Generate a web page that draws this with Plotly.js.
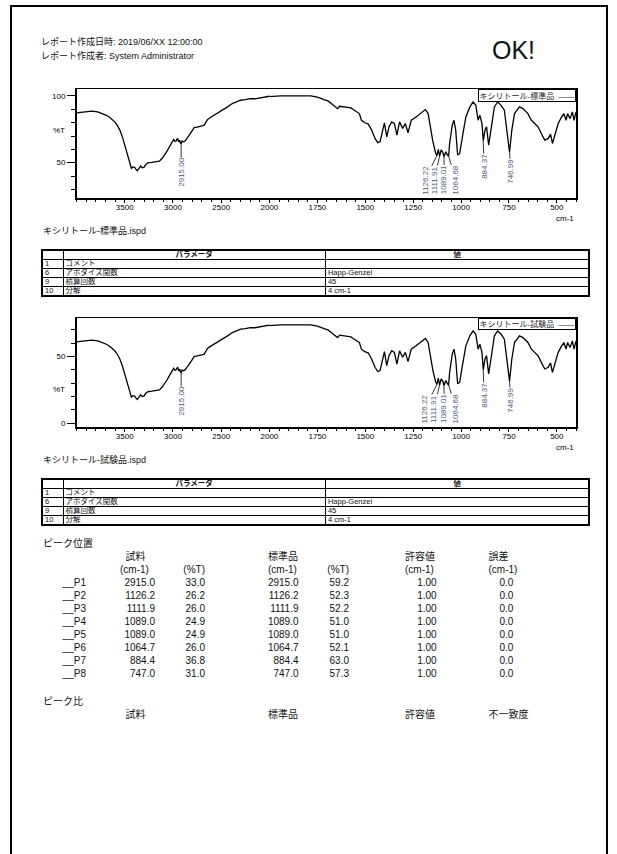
<!DOCTYPE html>
<html><head><meta charset="utf-8">
<script src="https://cdn.plot.ly/plotly-3.0.1.min.js"></script>
<style>
html,body{margin:0;padding:0;background:#fff;}
body{width:617px;height:854px;position:relative;overflow:hidden;font-family:"Liberation Sans","Noto Sans CJK JP",sans-serif;color:#111;}
#frame{position:absolute;left:10px;top:5px;width:598px;height:900px;border:2px solid #000;box-sizing:border-box;}
#plot{position:absolute;left:0;top:0;width:617px;height:854px;}
.t{position:absolute;white-space:nowrap;line-height:1;}
table.p{position:absolute;border-collapse:collapse;table-layout:fixed;border:2px solid #000;font-family:"Liberation Sans","Noto Sans CJK JP",sans-serif;}
table.p td{border:1.5px solid #000;height:8px;padding:0 0 0 2px;font-size:7.5px;line-height:8px;overflow:hidden;white-space:nowrap;color:#111;}
table.p td.h{text-align:center;font-weight:bold;padding:0;}
</style></head>
<body>
<div id="frame"></div>
<div id="plot"></div>
<script>
// ---------------- data ----------------
const wavenumber = [4000,3900,3843,3780,3740,3690,3654,3620,3603,3575,3551,3525,3500,3480,3466,3445,3431,3415,3397,3385,3370,3350,3335,3318,3301,3280,3253,3220,3191,3160,3140,3110,3088,3060,3037,3015,2992,2980,2968,2958,2951,2940,2930,2923,2915,2905,2890,2875,2855,2831,2800,2779,2760,2740,2728,2700,2676,2660,2642,2620,2590,2565,2539,2505,2470,2430,2385,2340,2299,2250,2196,2150,2093,2050,2000,1970,1942,1900,1872,1830,1785,1750,1715,1695,1671,1651,1645,1634,1615,1598,1575,1563,1545,1531,1520,1510,1502,1484,1467,1449,1435,1423,1411,1400,1388,1376,1362,1348,1335,1321,1305,1291,1277,1260,1235,1204,1186,1172,1160,1147,1133,1126,1119,1112,1104,1096,1089,1080,1070,1065,1060,1046,1037,1028,1018,1007,993,975,954,937,923,911,902,891,884,875,867,856,844,826,809,791,774,760,747,735,721,695,677,651,633,616,598,581,563,545,533,523,510,493,475,463,452,444,431,419,410,400];
const standardT = [87.3,88.0,88.6,88.0,86.8,85.5,83.8,82.0,80.6,77.8,74.4,69.5,63.2,57.5,53.2,48.5,45.8,46.8,46.5,45.2,44.0,46.0,47.5,46.2,46.5,48.8,50.0,50.2,50.7,51.0,51.2,53.5,55.7,58.8,61.9,64.5,67.4,66.0,66.2,67.6,68.2,65.5,66.8,64.9,64.3,66.2,65.6,66.2,68.0,70.6,74.0,76.4,76.5,76.7,76.9,77.5,78.1,80.5,82.3,83.5,84.8,85.7,86.8,88.2,89.8,92.0,94.3,95.6,96.8,97.2,98.0,97.9,98.8,99.2,99.8,99.6,100.0,100.0,100.2,100.1,100.0,99.2,97.3,96.3,93.6,91.5,90.5,92.3,92.0,91.3,91.0,89.8,88.3,86.8,81.8,80.5,79.9,78.9,74.4,68.2,65.0,65.7,74.4,79.9,69.4,76.9,80.6,79.4,70.6,80.6,75.7,79.4,72.4,81.8,84.3,88.0,89.8,86.8,76.9,65.7,57.5,55.3,60.0,55.0,59.5,58.0,54.5,58.2,55.5,54.8,64.0,78.1,81.8,74.4,55.8,57.0,69.4,84.3,91.8,95.5,93.0,81.8,85.6,79.4,66.5,74.4,76.9,63.2,74.4,91.8,95.5,93.0,89.3,74.4,57.8,74.4,86.8,91.8,90.5,86.8,81.8,79.4,76.9,71.9,66.9,68.2,71.4,64.4,70.6,79.4,84.3,86.8,81.8,86.8,83.0,88.0,81.8,88.0];
const sampleT = [61.0,61.7,62.3,61.7,60.5,59.2,57.5,55.7,54.3,51.5,48.1,43.2,36.9,31.2,26.9,22.2,19.5,20.5,20.2,18.9,17.7,19.7,21.2,19.9,20.2,22.5,23.7,23.9,24.4,24.7,24.9,27.2,29.4,32.5,35.6,38.2,41.1,39.7,39.9,41.3,41.9,39.2,40.5,38.6,38.0,39.9,39.3,39.9,41.7,44.3,47.7,50.1,50.2,50.4,50.6,51.2,51.8,54.2,56.0,57.2,58.5,59.4,60.5,61.9,63.5,65.7,68.0,69.3,70.5,70.9,71.7,71.6,72.5,72.9,73.5,73.3,73.7,73.7,73.9,73.8,73.7,72.9,71.0,70.0,67.3,65.2,64.2,66.0,65.7,65.0,64.7,63.5,62.0,60.5,55.5,54.2,53.6,52.6,48.1,41.9,38.7,39.4,48.1,53.6,43.1,50.6,54.3,53.1,44.3,54.3,49.4,53.1,46.1,55.5,58.0,61.7,63.5,60.5,50.6,39.4,31.2,29.0,33.7,28.7,33.2,31.7,28.2,31.9,29.2,28.5,37.7,51.8,55.5,48.1,29.5,30.7,43.1,58.0,65.5,69.2,66.7,55.5,59.3,53.1,40.2,48.1,50.6,36.9,48.1,65.5,69.2,66.7,63.0,48.1,31.5,48.1,60.5,65.5,64.2,60.5,55.5,53.1,50.6,45.6,40.6,41.9,45.1,38.1,44.3,53.1,58.0,60.5,55.5,60.5,56.7,61.7,55.5,61.7];

const peakWn = [2915.00, 1126.22, 1111.91, 1089.01, 1064.68, 884.37, 746.99];
const peakStdTip = [64.3, 55.3, 55.0, 54.5, 54.8, 66.5, 57.8];
const peakSmpTip = [38.0, 29.0, 28.7, 28.2, 28.5, 40.2, 31.5];

const xTickLeft = [3500, 3000, 2500, 2000];
const xTickRight = [1750, 1500, 1250, 1000, 750, 500];
const yTickStd = [50, 100];
const yTickSmp = [0, 50];

const paramNo = ['1', '6', '9', '10'];
const paramName = ['コメント', 'アポダイズ関数', '積算回数', '分解'];
const paramVal = ['', 'Happ-Genzel', '45', '4 cm-1'];

const peakNames = ['__P1','__P2','__P3','__P4','__P5','__P6','__P7','__P8'];
const tblSampleWn = [2915.0, 1126.2, 1111.9, 1089.0, 1089.0, 1064.7, 884.4, 747.0];
const tblSampleT = [33.0, 26.2, 26.0, 24.9, 24.9, 26.0, 36.8, 31.0];
const tblStdWn = [2915.0, 1126.2, 1111.9, 1089.0, 1089.0, 1064.7, 884.4, 747.0];
const tblStdT = [59.2, 52.3, 52.2, 51.0, 51.0, 52.1, 63.0, 57.3];
const tblTol = [1.00, 1.00, 1.00, 1.00, 1.00, 1.00, 1.00, 1.00];
const tblErr = [0.0, 0.0, 0.0, 0.0, 0.0, 0.0, 0.0, 0.0];

// ---------------- chart ----------------
const W = 617, H = 854;
const xL = 76.5 / W, xS = 269.5 / W, xR = 576 / W;
const pf = px => 1 - px / H;
const labelOffsets = [[0, 29], [-12.2, 24.4], [-5.4, 24], [0.2, 23.3], [7, 23.7], [1, 26], [1.5, 19.5]];
const tickFont = {size: 8, family: 'Liberation Sans, Noto Sans CJK JP', color: '#000'};

const layout = {
  width: W, height: H, autosize: false,
  margin: {l: 0, r: 0, t: 0, b: 0, pad: 0},
  paper_bgcolor: 'rgba(0,0,0,0)', plot_bgcolor: 'rgba(0,0,0,0)',
  showlegend: false, annotations: []
};
const data = [];

function xAxis(domain, range, anchor, vals, minorDt) {
  return {domain, range, anchor, tickmode: 'array', tickvals: vals, ticks: 'outside', ticklen: 3,
    tickwidth: 1, tickcolor: '#000', showline: true, mirror: true, linecolor: '#000', linewidth: 1.5,
    showgrid: false, zeroline: false, tickfont: tickFont, fixedrange: true, ticklabelstandoff: -2,
    minor: {tickmode: 'linear', tick0: 0, dtick: minorDt, ticks: 'outside', ticklen: 2.5, tickcolor: '#000', tickwidth: 1, showgrid: false}};
}
function yAxisL(domain, range, anchor, vals) {
  return {domain, range, anchor, tickmode: 'array', tickvals: vals, ticks: 'outside', ticklen: 8,
    tickwidth: 1, tickcolor: '#000', showline: true, mirror: false, linecolor: '#000', linewidth: 1.5,
    showgrid: false, zeroline: false, tickfont: tickFont, fixedrange: true,
    minor: {tickmode: 'linear', tick0: 0, dtick: 10, ticks: 'outside', ticklen: 4, tickcolor: '#000', tickwidth: 1, showgrid: false}};
}
function yAxisR(domain, range, anchor) {
  return {domain, range, anchor, side: 'right', showline: true, linecolor: '#000', linewidth: 1.5,
    showticklabels: false, ticks: '', showgrid: false, zeroline: false, fixedrange: true};
}

function addChart(n, yvals, tips, topPx, botPx, yRange, yTicks, legendText, cmPx, pctVal) {
  const a = n === 1 ? ['', '2'] : ['3', '4'];
  const yd = [pf(botPx), pf(topPx)];
  layout['xaxis' + a[0]] = xAxis([xL, xS], [4000, 1999], 'y' + a[0], xTickLeft, 100);
  layout['xaxis' + a[1]] = xAxis([xS, xR], [2000, 400], 'y' + a[1], xTickRight, 50);
  layout['yaxis' + a[0]] = yAxisL(yd, yRange, 'x' + a[0], yTicks);
  layout['yaxis' + a[1]] = yAxisR(yd, yRange, 'x' + a[1]);
  for (const s of a) {
    data.push({x: wavenumber, y: yvals, xaxis: 'x' + s, yaxis: 'y' + s, mode: 'lines',
      line: {color: '#000', width: 1.3}, hoverinfo: 'skip', showlegend: false});
  }
  peakWn.forEach((wn, i) => {
    const s = wn >= 2000 ? a[0] : a[1];
    layout.annotations.push({xref: 'x' + s, yref: 'y' + s, x: wn, y: tips[i],
      text: wn.toFixed(2), textangle: -90, showarrow: true, arrowhead: 0, arrowwidth: 0.8,
      arrowcolor: '#000', ax: labelOffsets[i][0], ay: labelOffsets[i][1], standoff: 0,
      font: {size: 8, color: '#4d5b7c', family: 'Liberation Sans'}, bgcolor: '#fff', borderpad: 0});
  });
  // legend box
  layout.annotations.push({xref: 'paper', yref: 'paper', x: xR, y: pf(topPx), xanchor: 'right', yanchor: 'top',
    text: legendText + '  ——', showarrow: false, font: {size: 8, color: '#222', family: 'Liberation Sans, Noto Sans CJK JP'},
    bgcolor: '#fff', bordercolor: '#000', borderwidth: 1, borderpad: 0.5});
  // unit labels
  layout.annotations.push({xref: 'paper', yref: 'paper', x: xR, y: pf(cmPx), xanchor: 'right', yanchor: 'middle',
    text: 'cm-1', showarrow: false, font: tickFont});
  layout.annotations.push({xref: 'paper', yref: 'y' + a[0], x: 59 / W, y: pctVal, xanchor: 'center', yanchor: 'middle',
    text: '%T', showarrow: false, font: {size: 8, family: 'Liberation Sans', color: '#000'}});
}

addChart(1, standardT, peakStdTip, 89.3, 198.3, [23.3, 105], yTickStd, 'キシリトール-標準品', 218.5, 74.4);
addChart(2, sampleT, peakSmpTip, 318.3, 427, [-3, 78.7], yTickSmp, 'キシリトール-試験品', 447.5, 25);

Plotly.newPlot('plot', data, layout, {staticPlot: true, displayModeBar: false});

// ---------------- page text ----------------
function T(text, x, cy, size, opts) {
  opts = opts || {};
  const d = document.createElement('div');
  d.className = 't';
  d.textContent = text;
  d.style.fontSize = size + 'px';
  d.style.top = (cy - size / 2) + 'px';
  d.style.left = x + 'px';
  if (opts.right) d.style.transform = 'translateX(-100%)';
  if (opts.bold) d.style.fontWeight = 'bold';
  document.body.appendChild(d);
  return d;
}

T('レポート作成日時: 2019/06/XX 12:00:00', 41, 42.7, 9);
T('レポート作成者: System Administrator', 41, 56, 9);
T('OK!', 492, 50, 25);
T('キシリトール-標準品.ispd', 43, 231, 9);
T('キシリトール-試験品.ispd', 43, 460, 9);

function makeTable(top) {
  const tb = document.createElement('table');
  tb.className = 'p';
  tb.style.left = '41px';
  tb.style.top = top + 'px';
  tb.style.width = '547.5px';
  const cg = document.createElement('colgroup');
  [21, 262.4, 264.1].forEach(w => { const c = document.createElement('col'); c.style.width = w + 'px'; cg.appendChild(c); });
  tb.appendChild(cg);
  const hr = tb.insertRow();
  ['', 'パラメータ', '値'].forEach(h => { const c = hr.insertCell(); c.className = 'h'; c.textContent = h; });
  paramNo.forEach((no, i) => {
    const r = tb.insertRow();
    [no, paramName[i], paramVal[i]].forEach(v => { const c = r.insertCell(); c.textContent = v; });
  });
  document.body.appendChild(tb);
}
makeTable(249);
makeTable(477.5);

T('ピーク位置', 43, 544, 10);
[['試料', 125.6], ['標準品', 268], ['許容値', 405], ['誤差', 488.5]].forEach(h => T(h[0], h[1], 556.7, 10));
T('(cm-1)', 120, 570, 10);
T('(%T)', 205, 570, 10, {right: true});
T('(cm-1)', 268, 570, 10);
T('(%T)', 349, 570, 10, {right: true});
T('(cm-1)', 405, 570, 10);
T('(cm-1)', 488.5, 570, 10);

peakNames.forEach((nm, i) => {
  const cy = 582.7 + i * 13.05;
  T(nm, 62.6, cy, 10);
  T(tblSampleWn[i].toFixed(1), 155, cy, 10, {right: true});
  T(tblSampleT[i].toFixed(1), 205, cy, 10, {right: true});
  T(tblStdWn[i].toFixed(1), 298.5, cy, 10, {right: true});
  T(tblStdT[i].toFixed(1), 349, cy, 10, {right: true});
  T(tblTol[i].toFixed(2), 436.7, cy, 10, {right: true});
  T(tblErr[i].toFixed(1), 513.3, cy, 10, {right: true});
});

T('ピーク比', 43, 701.7, 10);
[['試料', 125.6], ['標準品', 268], ['許容値', 405], ['不一致度', 488.5]].forEach(h => T(h[0], h[1], 715, 10));
</script>
</body></html>
